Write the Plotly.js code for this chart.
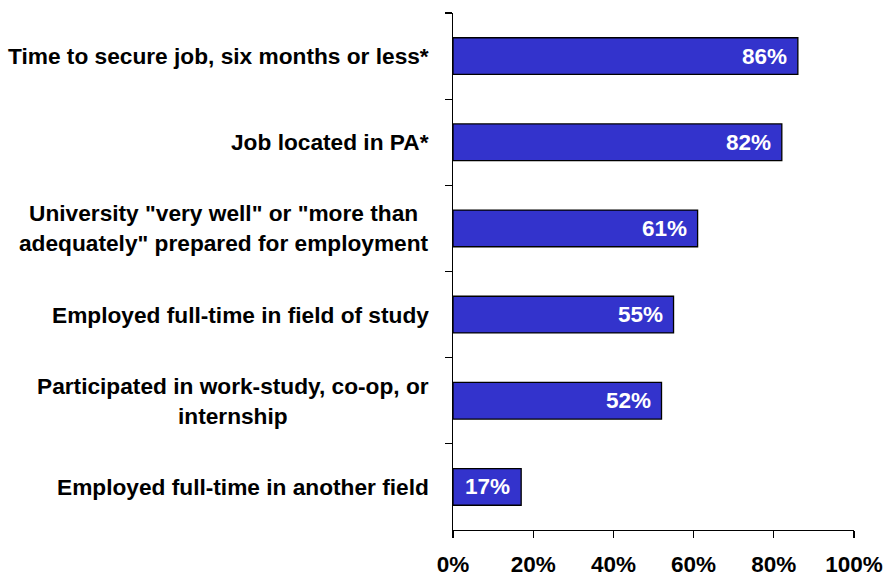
<!DOCTYPE html>
<html>
<head>
<meta charset="utf-8">
<script src="https://cdn.plot.ly/plotly-3.0.1.min.js"></script>
<style>html,body{margin:0;padding:0;background:#fff;}#chart{width:885px;height:578px;}</style>
</head>
<body>
<div id="chart"></div>
<script>
const categories = [
  'Time to secure job, six months or less*',
  'Job located in PA*',
  'University "very well" or "more than<br>adequately" prepared for employment',
  'Employed full-time in field of study',
  'Participated in work-study, co-op, or<br>internship',
  'Employed full-time in another field'
];
const values = [86, 82, 61, 55, 52, 17];
const valueLabels = ['86%', '82%', '61%', '55%', '52%', '17%'];
const xTickVals = [0, 20, 40, 60, 80, 100];
const xTickText = ['0%', '20%', '40%', '60%', '80%', '100%'];

const FONT = 'Liberation Sans, Arial, sans-serif';

const trace = {
  type: 'bar',
  orientation: 'h',
  x: values,
  y: categories,
  marker: {color: '#3333CC', line: {color: '#000000', width: 1.3}},
  hoverinfo: 'none'
};

const annotations = [];
categories.forEach((c, i) => {
  annotations.push({
    xref: 'paper', yref: 'y', x: 0, y: c,
    xanchor: 'right', yanchor: 'middle', xshift: -22,
    text: '<b>' + c + '</b>', align: 'center', showarrow: false,
    font: {family: FONT, size: 22.7, color: '#000'}
  });
  annotations.push({
    xref: 'x', yref: 'y', x: values[i], y: c,
    xanchor: 'right', yanchor: 'middle', xshift: -9,
    text: '<b>' + valueLabels[i] + '</b>', showarrow: false,
    font: {family: FONT, size: 22.5, color: '#FFFFFF'}
  });
});

const layout = {
  width: 885, height: 578,
  margin: {l: 452.5, r: 31, t: 12.7, b: 48, pad: 0},
  paper_bgcolor: '#fff', plot_bgcolor: '#fff',
  bargap: 0.574,
  showlegend: false,
  font: {family: FONT, size: 22, color: '#000'},
  xaxis: {
    range: [0, 100], tickvals: xTickVals, ticktext: xTickText.map(t => '<b>' + t + '</b>'),
    ticks: 'outside', ticklen: 7, tickwidth: 1.3, tickcolor: '#000',
    ticklabelstandoff: 7,
    showline: true, linecolor: '#000', linewidth: 1.3,
    showgrid: false, zeroline: false, fixedrange: true,
    tickfont: {family: FONT, size: 22.5, color: '#000'}
  },
  yaxis: {
    type: 'category', autorange: 'reversed',
    showticklabels: false, ticks: 'outside', tickson: 'boundaries', ticklen: 7, tickwidth: 1.3, tickcolor: '#000',
    showline: true, linecolor: '#000', linewidth: 1.3,
    showgrid: false, zeroline: false, fixedrange: true
  },
  annotations: annotations
};

Plotly.newPlot('chart', [trace], layout, {displayModeBar: false, staticPlot: true});
</script>
</body>
</html>
